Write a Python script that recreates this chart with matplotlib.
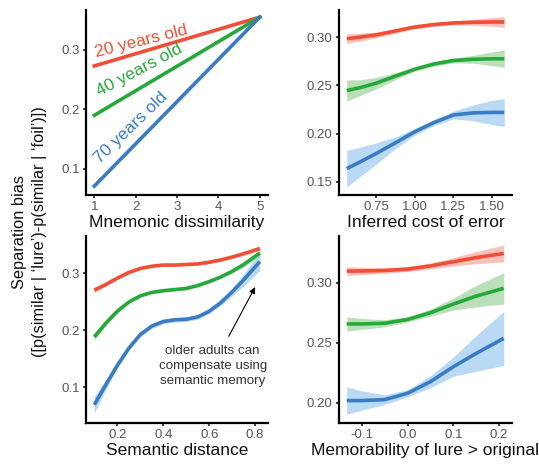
import matplotlib
matplotlib.use("Agg")
import matplotlib.pyplot as plt
import numpy as np

plt.rcParams["font.family"] = ["Liberation Sans", "DejaVu Sans"]

RED = "#F04E37"
GREEN = "#27A83A"
BLUE = "#3A7CC4"
RED_FILL = "#F6A79D"
GREEN_FILL = "#9ED29A"
BLUE_FILL = "#9CCAF0"

ages = ["20 years old", "40 years old", "70 years old"]

# panel 1: mnemonic dissimilarity
dis_x = [1, 5]
dis_red = [0.273, 0.355]
dis_green = [0.190, 0.355]
dis_blue = [0.071, 0.355]

# panel 2: inferred cost of error
cost_x = [0.56, 0.65, 0.75, 0.875, 1.0, 1.125, 1.25, 1.375, 1.5, 1.58]
cost_red = [0.2983, 0.3000, 0.3022, 0.3063, 0.3104, 0.3130, 0.3146, 0.3153, 0.3156, 0.3156]
cost_red_se = [0.005, 0.004, 0.003, 0.0022, 0.002, 0.002, 0.002, 0.003, 0.0045, 0.0055]
cost_green = [0.2446, 0.2478, 0.2522, 0.2595, 0.2667, 0.2722, 0.2757, 0.2770, 0.2775, 0.2775]
cost_green_se = [0.011, 0.008, 0.006, 0.0035, 0.002, 0.0022, 0.0025, 0.004, 0.007, 0.009]
cost_blue = [0.1638, 0.1710, 0.1794, 0.1905, 0.2019, 0.2115, 0.2193, 0.2215, 0.2220, 0.2220]
cost_blue_se = [0.019, 0.015, 0.011, 0.006, 0.0035, 0.003, 0.004, 0.008, 0.0125, 0.0145]

# panel 3: semantic distance
sem_x = [0.1, 0.15, 0.2, 0.25, 0.3, 0.35, 0.4, 0.45, 0.5, 0.55, 0.6, 0.65, 0.7, 0.75, 0.82]
sem_red = [0.270, 0.280, 0.291, 0.301, 0.308, 0.312, 0.314, 0.314, 0.315, 0.316, 0.319, 0.323, 0.328, 0.334, 0.343]
sem_red_se = [0.004, 0.003, 0.002, 0.002, 0.002, 0.002, 0.002, 0.002, 0.002, 0.002, 0.002, 0.002, 0.002, 0.003, 0.004]
sem_green = [0.188, 0.212, 0.233, 0.249, 0.260, 0.266, 0.269, 0.271, 0.273, 0.278, 0.285, 0.293, 0.303, 0.315, 0.335]
sem_green_se = [0.006, 0.004, 0.003, 0.002, 0.002, 0.002, 0.002, 0.002, 0.002, 0.002, 0.002, 0.002, 0.003, 0.004, 0.006]
sem_blue = [0.069, 0.104, 0.138, 0.168, 0.192, 0.207, 0.215, 0.218, 0.219, 0.223, 0.233, 0.248, 0.267, 0.288, 0.320]
sem_blue_se = [0.015, 0.008, 0.005, 0.004, 0.004, 0.004, 0.004, 0.004, 0.004, 0.004, 0.004, 0.005, 0.007, 0.011, 0.016]

# panel 4: memorability of lure > original
mem_x = [-0.133, -0.1, -0.05, 0.0, 0.05, 0.1, 0.15, 0.21]
mem_red = [0.3097, 0.3098, 0.3102, 0.3114, 0.3140, 0.3175, 0.3210, 0.3244]
mem_red_se = [0.0037, 0.003, 0.0022, 0.002, 0.0025, 0.0035, 0.005, 0.007]
mem_green = [0.2656, 0.2656, 0.2662, 0.2694, 0.2750, 0.2822, 0.2889, 0.2953]
mem_green_se = [0.006, 0.0045, 0.003, 0.002, 0.003, 0.005, 0.009, 0.013]
mem_blue = [0.2017, 0.2017, 0.2025, 0.2078, 0.2175, 0.2300, 0.2411, 0.2536]
mem_blue_se = [0.0115, 0.008, 0.004, 0.003, 0.005, 0.008, 0.015, 0.0225]


def style(ax, xlabel, xticks, xticklabels, yticks, yticklabels, xlim, ylim):
    for s in ["top", "right"]:
        ax.spines[s].set_visible(False)
    for s in ["left", "bottom"]:
        ax.spines[s].set_linewidth(1.6)
        ax.spines[s].set_color("black")
    ax.set_xlim(*xlim)
    ax.set_ylim(*ylim)
    ax.set_xticks(xticks, xticklabels)
    ax.set_yticks(yticks, yticklabels)
    ax.tick_params(length=2.5, width=1.3, color="#333333", labelcolor="#555555",
                   labelsize=9.5, pad=2)
    ax.set_xlabel(xlabel, fontsize=12.5, color="#111111", labelpad=1)


def smooth(ax, x, y, se, color, fill):
    x = np.array(x)
    y = np.array(y)
    se = np.array(se)
    ax.fill_between(x, y - se, y + se, color=fill, alpha=0.7, lw=0)
    ax.plot(x, y, color=color, lw=2.6, solid_capstyle="butt")


fig = plt.figure(figsize=(5.39, 4.66), dpi=100)

ax1 = fig.add_axes([0.1596, 0.5815, 0.3377, 0.397])
ax1.plot(dis_x, dis_red, color=RED, lw=2.6)
ax1.plot(dis_x, dis_green, color=GREEN, lw=2.6)
ax1.plot(dis_x, dis_blue, color=BLUE, lw=2.6)
style(ax1, "Mnemonic dissimilarity", [1, 2, 3, 4, 5], ["1", "2", "3", "4", "5"],
      [0.1, 0.2, 0.3], ["0.1", "0.2", "0.3"], (0.8, 5.2), (0.056, 0.367))
ax1.text(1.05, 0.288, ages[0], color=RED, fontsize=12.5, rotation=14,
         rotation_mode="anchor", ha="left", va="baseline")
ax1.text(1.12, 0.222, ages[1], color=GREEN, fontsize=12.5, rotation=28,
         rotation_mode="anchor", ha="left", va="baseline")
ax1.text(1.13, 0.109, ages[2], color=BLUE, fontsize=12.5, rotation=44,
         rotation_mode="anchor", ha="left", va="baseline")

ax2 = fig.add_axes([0.6289, 0.5815, 0.321, 0.397])
smooth(ax2, cost_x, cost_red, cost_red_se, RED, RED_FILL)
smooth(ax2, cost_x, cost_green, cost_green_se, GREEN, GREEN_FILL)
smooth(ax2, cost_x, cost_blue, cost_blue_se, BLUE, BLUE_FILL)
style(ax2, "Inferred cost of error", [0.75, 1.0, 1.25, 1.5], ["0.75", "1.00", "1.25", "1.50"],
      [0.15, 0.2, 0.25, 0.3], ["0.15", "0.20", "0.25", "0.30"], (0.51, 1.63), (0.1365, 0.328))

ax3 = fig.add_axes([0.1596, 0.0923, 0.3377, 0.4013])
smooth(ax3, sem_x, sem_red, sem_red_se, RED, RED_FILL)
smooth(ax3, sem_x, sem_green, sem_green_se, GREEN, GREEN_FILL)
smooth(ax3, sem_x, sem_blue, sem_blue_se, BLUE, BLUE_FILL)
style(ax3, "Semantic distance", [0.2, 0.4, 0.6, 0.8], ["0.2", "0.4", "0.6", "0.8"],
      [0.1, 0.2, 0.3], ["0.1", "0.2", "0.3"], (0.064, 0.856), (0.037, 0.365))
ax3.annotate("", xy=(0.8, 0.2754), xytext=(0.685, 0.189),
             arrowprops=dict(arrowstyle="-|>", color="black", lw=0.8,
                             mutation_scale=9, shrinkA=0, shrinkB=0))
ax3.text(0.615, 0.137, "older adults can\ncompensate using\nsemantic memory",
         ha="center", va="center", fontsize=9.6, color="#333333", linespacing=1.3)

ax4 = fig.add_axes([0.6289, 0.0923, 0.321, 0.4013])
smooth(ax4, mem_x, mem_red, mem_red_se, RED, RED_FILL)
smooth(ax4, mem_x, mem_green, mem_green_se, GREEN, GREEN_FILL)
smooth(ax4, mem_x, mem_blue, mem_blue_se, BLUE, BLUE_FILL)
style(ax4, "Memorability of lure > original", [-0.1, 0.0, 0.1, 0.2], ["-0.1", "0.0", "0.1", "0.2"],
      [0.2, 0.25, 0.3], ["0.20", "0.25", "0.30"], (-0.15, 0.228), (0.183, 0.339))

fig.text(20 / 539, 1 - 232 / 466, "Separation bias", rotation=90, ha="center", va="center",
         fontsize=11.8, color="#111111")
fig.text(40 / 539, 1 - 232 / 466, "([p(similar | \u2018lure\u2019)-p(similar | \u2018foil\u2019)])",
         rotation=90, ha="center", va="center", fontsize=11.8, color="#111111")

fig.savefig("out.png", dpi=100)
